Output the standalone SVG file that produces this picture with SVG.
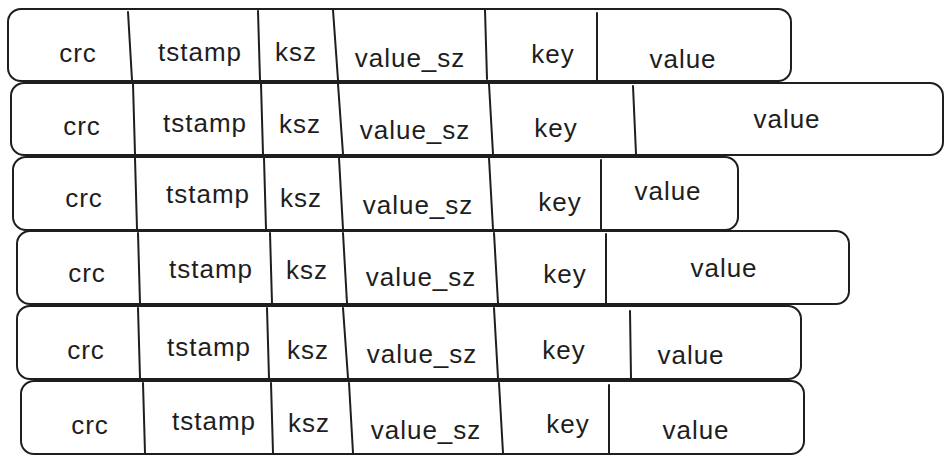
<svg xmlns="http://www.w3.org/2000/svg" width="950" height="462" viewBox="0 0 950 462">
<style>
.box{fill:#fff;stroke:#1e1e1e;stroke-width:2;stroke-linejoin:round}
.div{stroke:#1e1e1e;stroke-width:2;stroke-linecap:round}
text{font-family:"Liberation Sans",Arial,sans-serif;font-size:26px;letter-spacing:1px;fill:#1e1e1e;text-anchor:middle}
</style>
<rect width="950" height="462" fill="#fff"/>
<g id="row1">
<rect class="box" x="8" y="9" width="783" height="72" rx="13"/>
<line class="div" x1="128" y1="12" x2="132" y2="80"/>
<line class="div" x1="258" y1="11" x2="260" y2="80"/>
<line class="div" x1="333" y1="10" x2="338" y2="80"/>
<line class="div" x1="485" y1="10" x2="487" y2="79"/>
<line class="div" x1="597" y1="13" x2="597" y2="80"/>
<text x="78" y="62">crc</text><text x="200" y="61">tstamp</text><text x="296" y="61">ksz</text><text x="410" y="67">value_sz</text><text x="553" y="63">key</text><text x="683" y="68">value</text>
</g>
<g id="row2">
<rect class="box" x="11" y="83" width="932" height="72" rx="13"/>
<line class="div" x1="133" y1="84" x2="135" y2="154"/>
<line class="div" x1="261" y1="84" x2="263" y2="154"/>
<line class="div" x1="338" y1="84" x2="343" y2="154"/>
<line class="div" x1="489" y1="84" x2="493" y2="154"/>
<line class="div" x1="633" y1="86" x2="636" y2="154"/>
<text x="82" y="135">crc</text><text x="205" y="132">tstamp</text><text x="300" y="133">ksz</text><text x="415" y="139">value_sz</text><text x="556" y="137">key</text><text x="787" y="128">value</text>
</g>
<g id="row3">
<rect class="box" x="13" y="157" width="725" height="73" rx="13"/>
<line class="div" x1="135" y1="158" x2="137" y2="229"/>
<line class="div" x1="264" y1="158" x2="266" y2="229"/>
<line class="div" x1="339" y1="158" x2="343" y2="229"/>
<line class="div" x1="489" y1="158" x2="493" y2="229"/>
<line class="div" x1="601" y1="160" x2="601" y2="229"/>
<text x="84" y="207">crc</text><text x="208" y="203">tstamp</text><text x="301" y="207">ksz</text><text x="418" y="214">value_sz</text><text x="560" y="211">key</text><text x="668" y="200">value</text>
</g>
<g id="row4">
<rect class="box" x="17" y="231" width="832" height="73" rx="13"/>
<line class="div" x1="138" y1="233" x2="140" y2="303"/>
<line class="div" x1="270" y1="233" x2="272" y2="303"/>
<line class="div" x1="343" y1="233" x2="347" y2="303"/>
<line class="div" x1="494" y1="233" x2="498" y2="303"/>
<line class="div" x1="606" y1="234" x2="606" y2="303"/>
<text x="87" y="282">crc</text><text x="211" y="278">tstamp</text><text x="307" y="279">ksz</text><text x="421" y="286">value_sz</text><text x="565" y="283">key</text><text x="724" y="277">value</text>
</g>
<g id="row5">
<rect class="box" x="17" y="306" width="784" height="73" rx="13"/>
<line class="div" x1="138" y1="308" x2="140" y2="378"/>
<line class="div" x1="267" y1="308" x2="269" y2="378"/>
<line class="div" x1="343" y1="308" x2="348" y2="378"/>
<line class="div" x1="494" y1="308" x2="498" y2="378"/>
<line class="div" x1="630" y1="311" x2="631" y2="378"/>
<text x="86" y="359">crc</text><text x="209" y="356">tstamp</text><text x="308" y="359">ksz</text><text x="422" y="363">value_sz</text><text x="564" y="359">key</text><text x="691" y="364">value</text>
</g>
<g id="row6">
<rect class="box" x="21" y="381" width="783" height="73" rx="13"/>
<line class="div" x1="143" y1="383" x2="145" y2="453"/>
<line class="div" x1="271" y1="383" x2="273" y2="453"/>
<line class="div" x1="349" y1="383" x2="353" y2="453"/>
<line class="div" x1="499" y1="383" x2="503" y2="453"/>
<line class="div" x1="609" y1="385" x2="609" y2="453"/>
<text x="90" y="434">crc</text><text x="214" y="430">tstamp</text><text x="309" y="432">ksz</text><text x="426" y="439">value_sz</text><text x="568" y="433">key</text><text x="696" y="439">value</text>
</g>
</svg>
